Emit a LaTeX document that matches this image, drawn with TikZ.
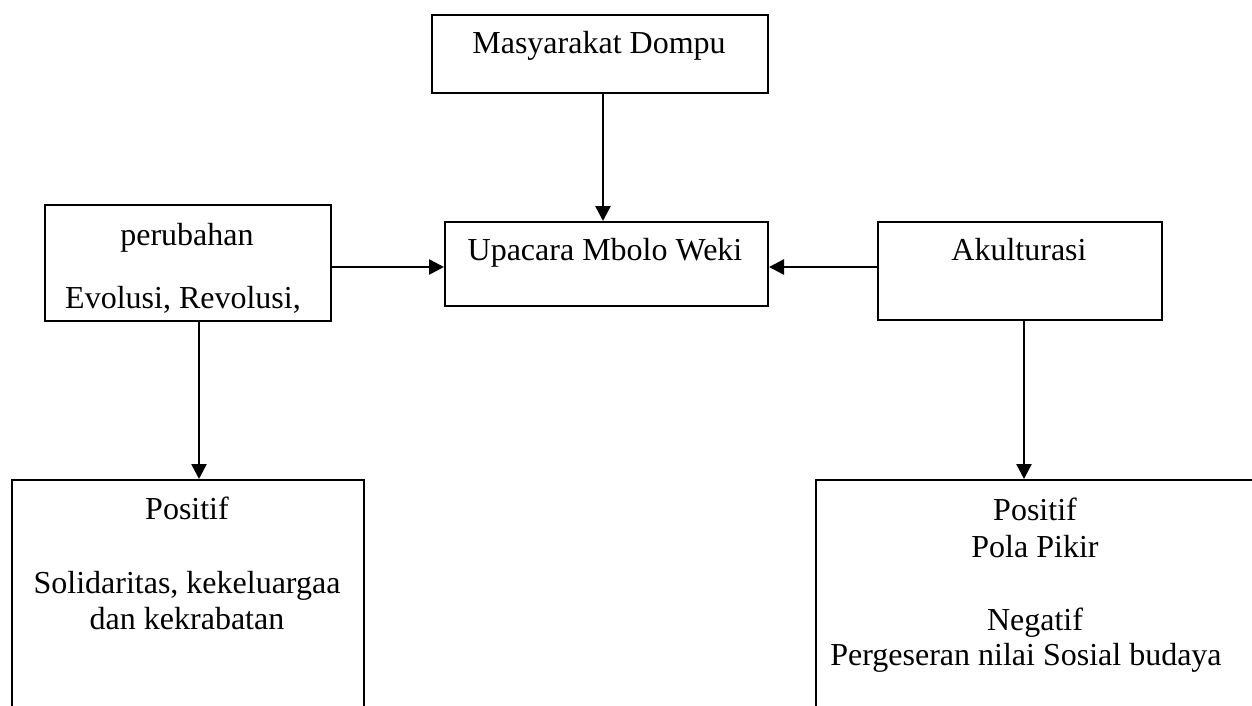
\documentclass[tikz,border=0pt]{standalone}
\usepackage{fontspec}
\setmainfont{Liberation Serif}
\usetikzlibrary{arrows.meta}
\begin{document}
\begin{tikzpicture}[x=1pt,y=-1pt,
  box/.style={draw,line width=2pt,inner sep=0pt,anchor=north west},
  txt/.style={inner sep=0pt,anchor=base,font=\fontsize{32}{36}\selectfont},
  arr/.style={line width=2.5pt,-{Triangle[length=15pt,width=15pt]}}]
\useasboundingbox (0,0) rectangle (1252,705);
\clip (0,0) rectangle (1252,705);
% boxes
\node[box,minimum width=336pt,minimum height=78pt] (mas) at (431,14) {};
\node[box,minimum width=323pt,minimum height=84pt] (upa) at (444,221) {};
\node[box,minimum width=286pt,minimum height=116pt] (per) at (44,204) {};
\node[box,minimum width=284pt,minimum height=98pt] (aku) at (877,221) {};
\node[box,minimum width=352pt,minimum height=300pt] (bl) at (11,479) {};
\node[box,minimum width=500pt,minimum height=300pt] (br) at (815,479) {};
% texts
\node[txt] (t1) at (599,53) {Masyarakat Dompu};
\node[txt] (t2) at (605,260) {Upacara Mbolo Weki};
\node[txt] (t3) at (187,245) {perubahan};
\node[txt] (t4) at (183,308) {Evolusi, Revolusi,};
\node[txt] (t5) at (1019,260) {Akulturasi};
\node[txt] (t6) at (187,519) {Positif};
\node[txt] (t7) at (187,593) {Solidaritas, kekeluargaa};
\node[txt] (t8) at (187,629) {dan kekrabatan};
\node[txt] (t9) at (1035,520) {Positif};
\node[txt] (t10) at (1035,557) {Pola Pikir};
\node[txt] (t11) at (1035,630) {Negatif};
\node[txt] (t12) at (1026,665) {Pergeseran nilai Sosial budaya};
% connectors
\draw[arr] (mas.south -| 603,0) -- (upa.north -| 603,0);
\draw[arr] (per.east |- 0,267) -- (upa.west |- 0,267);
\draw[arr] (aku.west |- 0,267) -- (upa.east |- 0,267);
\draw[arr] (per.south -| 199,0) -- (bl.north -| 199,0);
\draw[arr] (aku.south -| 1024,0) -- (br.north -| 1024,0);
\end{tikzpicture}
\end{document}
